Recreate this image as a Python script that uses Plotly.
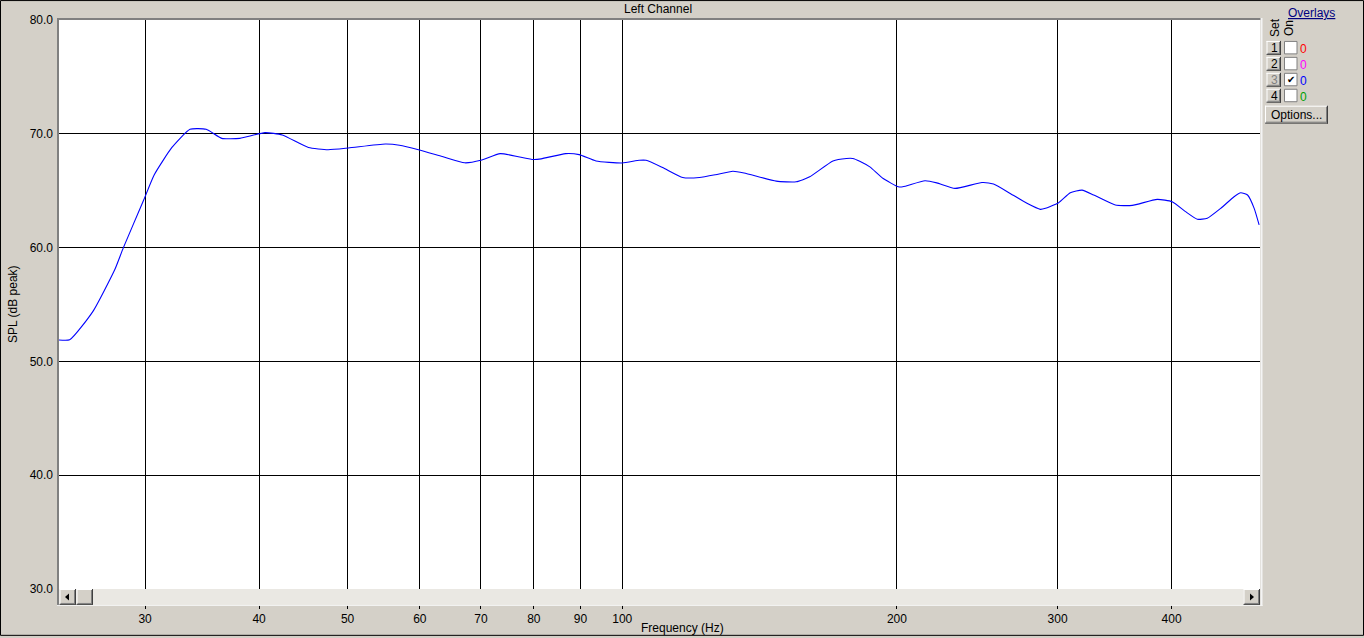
import plotly.graph_objects as go
import math

# ---------------- data ----------------
freq_hz = [24.0, 24.8, 26.3, 27.8, 28.4, 29.9, 30.7, 32.1, 33.6, 35.0, 36.4, 38.1,
           40.6, 42.4, 45.3, 47.6, 50.1, 55.0, 57.0, 59.8, 63.5, 67.2, 70.0, 73.5,
           77.2, 79.9, 81.5, 86.7, 89.7, 93.6, 100.0, 104.4, 106.2, 110.7, 116.5,
           121.5, 126.5, 132.2, 136.0, 147.5, 155.1, 160.5, 170.2, 176.1, 178.9,
           182.1, 186.8, 193.2, 200.7, 203.0, 214.7, 221.2, 231.6, 247.9, 255.2,
           266.2, 277.7, 287.2, 291.0, 300.8, 309.8, 319.1, 328.6, 347.1, 362.2,
           385.8, 400.6, 414.3, 426.8, 437.7, 452.8, 468.3, 476.3, 484.5, 492.7, 498.9]
spl_db = [51.9, 51.9, 54.4, 58.1, 60.0, 64.2, 66.4, 68.8, 70.4, 70.4, 69.6, 69.6,
          70.1, 69.9, 68.8, 68.6, 68.75, 69.1, 69.0, 68.6, 68.0, 67.45, 67.67, 68.26,
          67.96, 67.74, 67.8, 68.26, 68.17, 67.61, 67.44, 67.67, 67.67, 67.04, 66.16,
          66.16, 66.4, 66.71, 66.56, 65.84, 65.78, 66.22, 67.61, 67.83, 67.83,
          67.59, 67.09, 66.07, 65.34, 65.34, 65.87, 65.69, 65.20, 65.72, 65.58,
          64.76, 63.89, 63.36, 63.45, 63.94, 64.82, 65.05, 64.62, 63.74, 63.71,
          64.24, 64.03, 63.16, 62.49, 62.58, 63.45, 64.47, 64.82, 64.62, 63.45, 61.99]

x_ticks = [30, 40, 50, 60, 70, 80, 90, 100, 200, 300, 400]
x_tick_labels = ["30", "40", "50", "60", "70", "80", "90", "100", "200", "300", "400"]
y_ticks = [30, 40, 50, 60, 70, 80]
y_tick_labels = ["30.0", "40.0", "50.0", "60.0", "70.0", "80.0"]

overlay_sets = ["1", "2", "3", "4"]
overlay_counts = ["0", "0", "0", "0"]
overlay_colors = ["#FF0000", "#FF00FF", "#0000FF", "#00A000"]
overlay_on = [False, False, True, False]

# ---------------- layout helpers ----------------
W, H = 1364, 638
L, R, T, B = 59, 1260, 20, 591
def px(x):
    return (x - L) / (R - L)
def py(y):
    return (B - y) / (B - T)

FONT = "Liberation Sans, Arial, sans-serif"
BG = "#D4D0C8"

fig = go.Figure()
fig.add_trace(go.Scatter(
    x=freq_hz, y=spl_db, mode="lines",
    line=dict(color="#0000FF", width=1.1, shape="spline", smoothing=0.5),
    hoverinfo="x+y", showlegend=False))

shapes = []
annotations = []

def rect(x0, y0, x1, y1, fill=None, line=None, lw=1, layer="above"):
    shapes.append(dict(type="rect", xref="paper", yref="paper",
                       x0=px(x0), x1=px(x1), y0=py(y0), y1=py(y1),
                       fillcolor=fill if fill else "rgba(0,0,0,0)",
                       line=dict(color=line if line else "rgba(0,0,0,0)", width=lw if line else 0),
                       layer=layer))

def hline(x0, x1, y, color, lw=1):
    shapes.append(dict(type="line", xref="paper", yref="paper",
                       x0=px(x0), x1=px(x1), y0=py(y), y1=py(y),
                       line=dict(color=color, width=lw), layer="above"))

def vline(x, y0, y1, color, lw=1):
    shapes.append(dict(type="line", xref="paper", yref="paper",
                       x0=px(x), x1=px(x), y0=py(y0), y1=py(y1),
                       line=dict(color=color, width=lw), layer="above"))

def text(x, y, s, size=12, color="black", xanchor="center", angle=0):
    annotations.append(dict(xref="paper", yref="paper", x=px(x), y=py(y),
                            text=s, showarrow=False, xanchor=xanchor, yanchor="middle",
                            textangle=angle, font=dict(family=FONT, size=size, color=color)))

def button(x0, y0, x1, y1):
    rect(x0, y0, x1, y1, fill=BG)
    hline(x0, x1, y0 + 0.5, "#FFFFFF")
    vline(x0 + 0.5, y0, y1, "#FFFFFF")
    hline(x0, x1, y1 - 0.5, "#404040")
    vline(x1 - 0.5, y0, y1, "#404040")
    hline(x0 + 1, x1 - 1, y1 - 1.5, "#808080")
    vline(x1 - 1.5, y0 + 1, y1 - 1, "#808080")

# scrollbar (covers the long ticks so only short marks remain below it)
rect(59, 591, 1260, 607, fill="#EAE8E3")
button(59.5, 591, 76, 607)
button(76.5, 591, 93, 607)
button(1243.5, 591, 1260, 607)
shapes.append(dict(type="path", xref="paper", yref="paper",
                   path="M %f,%f L %f,%f L %f,%f Z" % (px(65), py(599), px(69), py(595.5), px(69), py(602.5)),
                   fillcolor="black", line=dict(color="black", width=0), layer="above"))
shapes.append(dict(type="path", xref="paper", yref="paper",
                   path="M %f,%f L %f,%f L %f,%f Z" % (px(1254), py(599), px(1250), py(595.5), px(1250), py(602.5)),
                   fillcolor="black", line=dict(color="black", width=0), layer="above"))

# sunken frame around plot
vline(58, 18.5, 608, "#808080", 2)
hline(57, 1262, 19, "#808080", 2)
vline(1261.5, 18, 608, "#F4F4F4", 2)
hline(57, 1262.5, 607.5, "#F4F4F4", 1)

# outer border
rect(0.5, 0.5, W - 0.5, H - 0.5, line="#000000", lw=1)

# titles
text(658, 9, "Left Channel", 12)
text(682, 630, "Frequency (Hz)", 12)
text(13, 305, "SPL (dB peak)", 12, angle=-90)

# Overlays panel
text(1311, 13, "<u>Overlays</u>", 12, color="#000080")
text(1275, 28, "Set", 12, angle=-90)
text(1289, 28, "On", 12, angle=-90)
for i, (s, c, col, on) in enumerate(zip(overlay_sets, overlay_counts, overlay_colors, overlay_on)):
    y0 = 41 + 16 * i
    button(1266.5, y0, 1281, y0 + 14)
    text(1274, y0 + 7, s, 12, color="#808080" if on else "black")
    rect(1284.5, y0 + 0.5, 1297, y0 + 13, fill="#FFFFFF", line="#808080", lw=1)
    if on:
        text(1290.8, y0 + 7, "✔", 10)
    text(1303.5, y0 + 8, c, 12, color=col)
button(1265, 106, 1328, 124)
text(1296.5, 115, "Options...", 12)

fig.update_layout(
    width=W, height=H,
    margin=dict(l=L, r=W - R, t=T, b=H - B, pad=0),
    paper_bgcolor=BG, plot_bgcolor="#FFFFFF",
    font=dict(family=FONT, size=12, color="black"),
    xaxis=dict(type="log", range=[math.log10(24.14), math.log10(500.0)],
               tickvals=x_ticks, ticktext=x_tick_labels,
               showgrid=True, gridcolor="#000000", gridwidth=1,
               ticks="outside", ticklen=19, tickcolor="#000000", tickwidth=1,
               showline=False, zeroline=False, fixedrange=True,
               tickfont=dict(family=FONT, size=12, color="black")),
    yaxis=dict(range=[30, 80], tickvals=y_ticks, ticktext=y_tick_labels,
               showgrid=True, gridcolor="#000000", gridwidth=1,
               ticks="", ticklabelstandoff=5,
               showline=False, zeroline=False, fixedrange=True,
               tickfont=dict(family=FONT, size=12, color="black")),
    shapes=shapes, annotations=annotations,
    showlegend=False,
)

fig.write_html("out.html", config={"displayModeBar": False},
               post_script="document.body.style.margin='0';document.body.style.overflow='hidden';")
